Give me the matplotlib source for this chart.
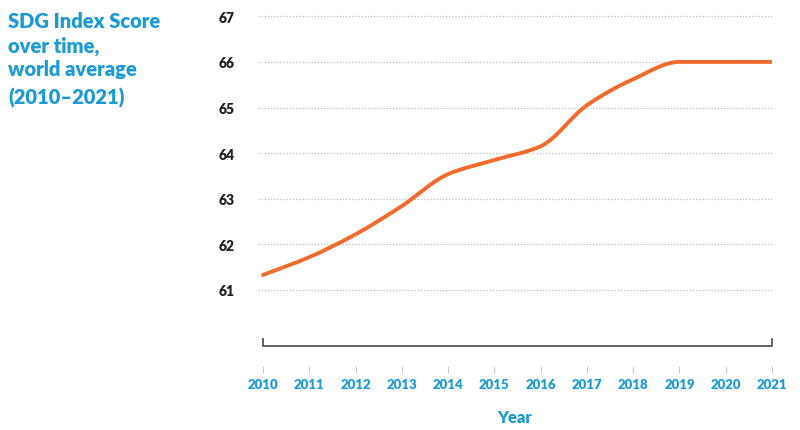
import numpy as np
import matplotlib.pyplot as plt
from matplotlib.path import Path
from matplotlib.patches import PathPatch

plt.rcParams['font.family'] = ['Lato', 'DejaVu Sans']

years = np.array([2010, 2011, 2012, 2013, 2014, 2015, 2016, 2017, 2018, 2019, 2020, 2021])
score = np.array([61.33, 61.72, 62.22, 62.84, 63.54, 63.85, 64.15, 65.05, 65.62, 66.0, 66.0, 66.0])
yticks = [61, 62, 63, 64, 65, 66, 67]
title_lines = ['SDG Index Score', 'over time,', 'world average', '(2010\u20132021)']

blue = '#1b9ad6'
orange = '#f26a2c'


def smooth_path(x, y):
    # monotone cubic (Fritsch-Carlson) as bezier segments
    x = np.asarray(x, float)
    y = np.asarray(y, float)
    h = np.diff(x)
    d = np.diff(y) / h
    m = np.zeros_like(y)
    m[0], m[-1] = d[0], d[-1]
    for i in range(1, len(y) - 1):
        if d[i - 1] * d[i] <= 0:
            m[i] = 0
        else:
            m[i] = 2 / (1 / d[i - 1] + 1 / d[i])
    verts = [(x[0], y[0])]
    codes = [Path.MOVETO]
    for i in range(len(x) - 1):
        verts += [(x[i] + h[i] / 3, y[i] + m[i] * h[i] / 3),
                  (x[i + 1] - h[i] / 3, y[i + 1] - m[i + 1] * h[i] / 3),
                  (x[i + 1], y[i + 1])]
        codes += [Path.CURVE4] * 3
    return Path(verts, codes)


fig = plt.figure(figsize=(8, 4.31), dpi=100)
ax = fig.add_axes([258 / 800, 1 - 348 / 431, (772 - 258) / 800, (348 - 15) / 431])
ax.set_xlim(2009.892, 2021)
ax.set_ylim(59.75, 67.05)

for v in yticks:
    ax.axhline(v, color='#bdbdbd', lw=0.9, ls=(0, (1, 1.5)), zorder=1)

ax.add_patch(PathPatch(smooth_path(years, score), fill=False, ec=orange, lw=2.8,
                       capstyle='round', zorder=3))

# bracket along the bottom
ax.plot([years[0], years[0], years[-1], years[-1]], [59.93, 59.77, 59.77, 59.93],
        color='#555555', lw=1.3, clip_on=False, zorder=2)

for s in ax.spines.values():
    s.set_visible(False)
ax.spines['bottom'].set_position(('outward', 14))

ax.set_yticks(yticks)
ax.set_yticklabels([str(v) for v in yticks], fontsize=10, fontweight='heavy', color='#222222')
ax.tick_params(axis='y', length=0, pad=17)

ax.set_xticks(years)
ax.set_xticklabels([str(y) for y in years], fontsize=9.5, fontweight='heavy', color=blue)
ax.tick_params(axis='x', length=5, color='#cccccc', width=0.8, pad=3)
ax.set_xlabel('Year', fontsize=12, fontweight='heavy', color=blue, labelpad=14)

for txt, base in zip(title_lines, [28, 52, 76, 105]):
    fig.text(8 / 800, 1 - base / 431, txt, fontsize=14.5, fontweight='heavy',
             color=blue, va='baseline')

fig.savefig('out.png', dpi=100)
